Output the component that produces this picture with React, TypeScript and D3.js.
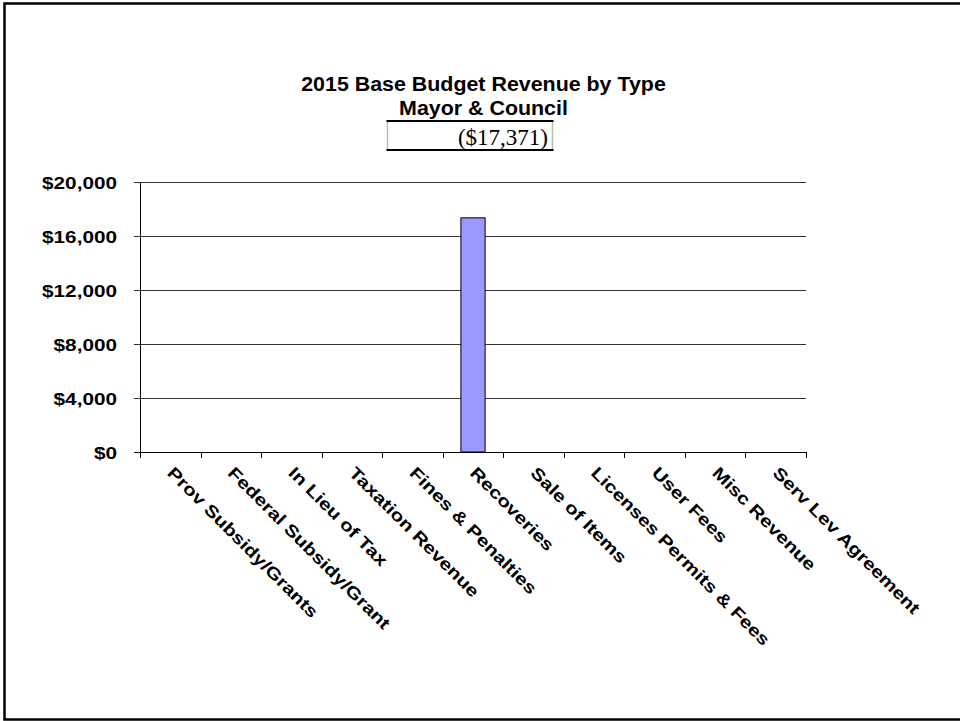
import React from "react";
import * as d3 from "d3";

const categories = [
  "Prov Subsidy/Grants",
  "Federal Subsidy/Grant",
  "In Lieu of Tax",
  "Taxation Revenue",
  "Fines & Penalties",
  "Recoveries",
  "Sale of Items",
  "Licenses Permits & Fees",
  "User Fees",
  "Misc Revenue",
  "Serv Lev Agreement",
];
const values = [0, 0, 0, 0, 0, 17371, 0, 0, 0, 0, 0];
const yTicks = [0, 4000, 8000, 12000, 16000, 20000];
const titleLines = ["2015 Base Budget Revenue by Type", "Mayor & Council"];
const totalLabel = "($17,371)";

const W = 960;
const H = 721;
const plot = { left: 140, right: 806, top: 182.4, bottom: 452 };
const SX = 1.22;
const sans = "'Liberation Sans', Arial, sans-serif";

export default function App() {
  const x = d3
    .scaleBand<string>()
    .domain(categories)
    .range([plot.left, plot.right])
    .paddingInner(0)
    .paddingOuter(0);
  const y = d3.scaleLinear().domain([0, 20000]).range([plot.bottom, plot.top]);
  const fmt = (v: number) => "$" + d3.format(",")(v);
  const barW = x.bandwidth() * 0.4;
  const boundaries = d3.range(categories.length + 1).map((i) => plot.left + i * x.step());

  return (
    <svg
      width={W}
      height={H}
      style={{ position: "absolute", left: 0, top: 0, background: "#fff" }}
    >
      <rect x={0} y={0} width={W} height={H} fill="#fff" />
      {/* outer frame */}
      <rect x={4.5} y={3.5} width={W + 10} height={716} fill="none" stroke="#000" strokeWidth={2.5} />

      {/* title */}
      {titleLines.map((t, i) => (
        <text
          key={i}
          transform={`translate(483.5, ${91 + i * 24}) scale(1.07,1)`}
          textAnchor="middle"
          fontFamily={sans}
          fontWeight="bold"
          fontSize={20}
          fill="#000"
        >
          {t}
        </text>
      ))}
      {/* total box */}
      <line x1={387.5} x2={387.5} y1={121} y2={150} stroke="#bbb" strokeWidth={1.5} />
      <line x1={552.5} x2={552.5} y1={121} y2={150} stroke="#bbb" strokeWidth={1.5} />
      <line x1={386.5} x2={553.5} y1={121} y2={121} stroke="#000" strokeWidth={2} />
      <line x1={386.5} x2={553.5} y1={150} y2={150} stroke="#000" strokeWidth={2} />
      <text
        x={548}
        y={145}
        textAnchor="end"
        fontFamily="'Liberation Serif', 'Times New Roman', serif"
        fontSize={23}
        fill="#000"
      >
        {totalLabel}
      </text>

      {/* gridlines */}
      {yTicks.map((t) => (
        <line
          key={"g" + t}
          x1={plot.left - 6}
          x2={t === 0 ? plot.left : plot.right}
          y1={Math.round(y(t)) + 0.5}
          y2={Math.round(y(t)) + 0.5}
          stroke={t === 0 ? "#000" : "#333"}
          strokeWidth={1}
        />
      ))}
      {/* y labels */}
      {yTicks.map((t) => (
        <text
          key={"l" + t}
          transform={`translate(117, ${Math.round(y(t)) + 6.5}) scale(${SX},1)`}
          textAnchor="end"
          fontFamily={sans}
          fontWeight="bold"
          fontSize={17}
          fill="#000"
        >
          {fmt(t)}
        </text>
      ))}

      {/* bars */}
      {categories.map((c, i) =>
        values[i] > 0 ? (
          <rect
            key={"b" + c}
            x={(x(c) as number) + (x.bandwidth() - barW) / 2}
            y={y(values[i])}
            width={barW}
            height={plot.bottom - y(values[i])}
            fill="#9999FF"
            stroke="#000"
            strokeWidth={1}
          />
        ) : null
      )}

      {/* axes */}
      <line x1={plot.left + 0.5} x2={plot.left + 0.5} y1={plot.top} y2={plot.bottom + 6} stroke="#000" strokeWidth={1} />
      <line x1={plot.left} x2={plot.right} y1={plot.bottom + 0.5} y2={plot.bottom + 0.5} stroke="#000" strokeWidth={1} />
      {boundaries.map((b, i) => (
        <line
          key={"t" + i}
          x1={Math.round(b) + 0.5}
          x2={Math.round(b) + 0.5}
          y1={plot.bottom}
          y2={plot.bottom + 6}
          stroke="#000"
          strokeWidth={1}
        />
      ))}

      {/* category labels */}
      {categories.map((c) => {
        const cx = (x(c) as number) + x.bandwidth() / 2;
        return (
          <text
            key={"c" + c}
            transform={`translate(${cx - 4}, ${474}) rotate(45) scale(${SX},1)`}
            textAnchor="start"
            fontFamily={sans}
            fontWeight="bold"
            fontSize={17}
            fill="#000"
          >
            {c}
          </text>
        );
      })}
    </svg>
  );
}
